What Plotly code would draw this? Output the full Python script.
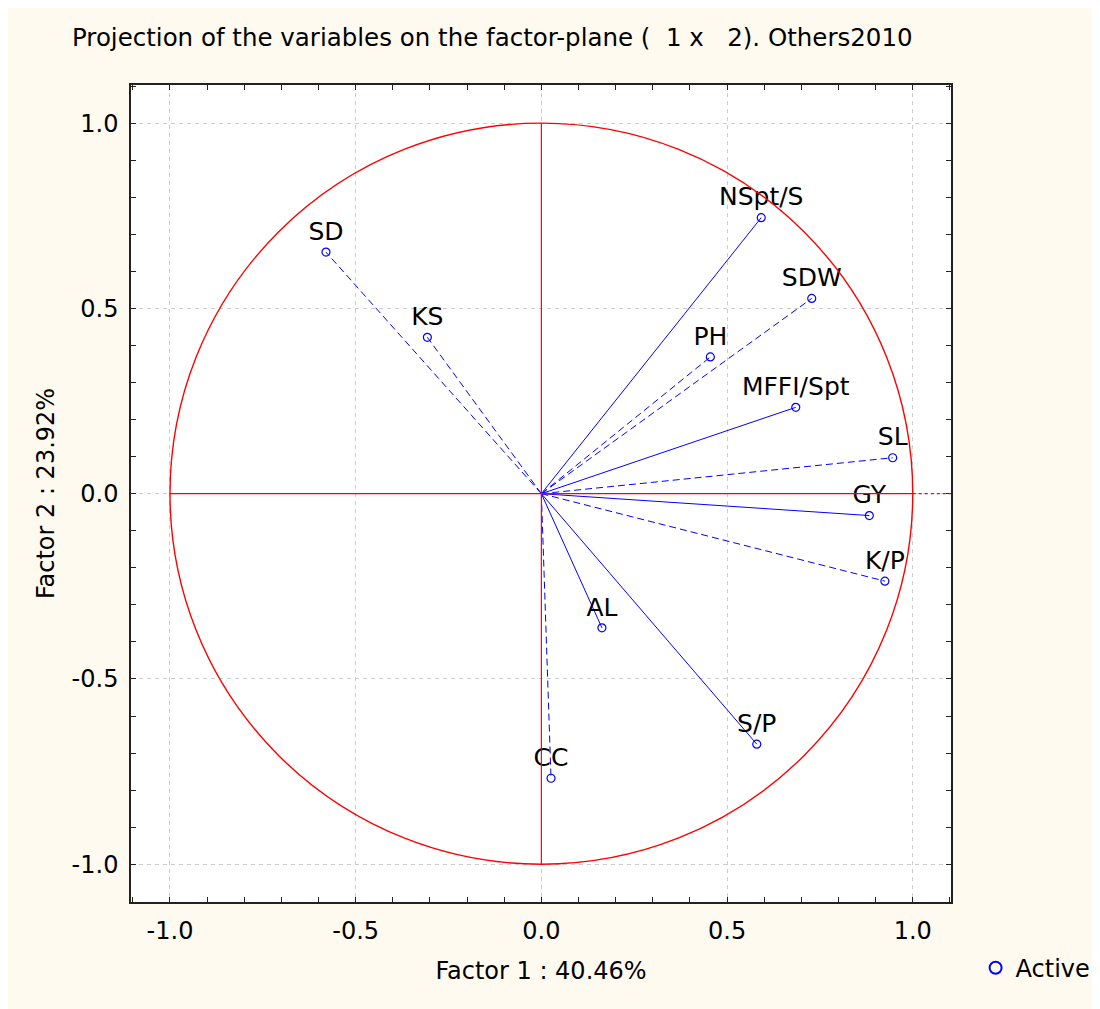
import plotly.graph_objects as go

# Data
variables = ["NSpt/S", "SDW", "PH", "MFFI/Spt", "SL", "GY", "K/P", "AL", "S/P", "CC", "SD", "KS"]
factor1 = [0.592, 0.728, 0.455, 0.685, 0.946, 0.883, 0.925, 0.163, 0.580, 0.026, -0.580, -0.307]
factor2 = [0.745, 0.527, 0.369, 0.233, 0.097, -0.059, -0.236, -0.362, -0.676, -0.768, 0.652, 0.422]
line_dash = ["solid", "dash", "dash", "solid", "dash", "solid", "dash", "solid", "solid", "dash", "dash", "dash"]
tick_vals = [-1.0, -0.5, 0.0, 0.5, 1.0]
tick_text = ["-1.0", "-0.5", "0.0", "0.5", "1.0"]

BLUE = "#0000ff"
RED = "#ff0000"
FONT = "DejaVu Sans, Liberation Sans, Arial, sans-serif"

fig = go.Figure()

# Vectors from origin
for name, x, y, d in zip(variables, factor1, factor2, line_dash):
    fig.add_trace(go.Scatter(
        x=[0, x], y=[0, y], mode="lines",
        line=dict(color=BLUE, width=1, dash=("7px,4px" if d == "dash" else "solid")),
        showlegend=False, hoverinfo="skip"))

# Markers with labels
fig.add_trace(go.Scatter(
    x=factor1, y=factor2, mode="markers+text", text=variables,
    textposition="top center",
    textfont=dict(family=FONT, size=25, color="black"),
    marker=dict(symbol="circle-open", size=8, color=BLUE, line=dict(width=1.2, color=BLUE)),
    name="Active", showlegend=True))

shapes = [
    dict(type="circle", xref="x", yref="y", x0=-1, y0=-1, x1=1, y1=1,
         line=dict(color=RED, width=1.4), layer="above"),
    dict(type="line", xref="x", yref="y", x0=-1, y0=0, x1=1, y1=0,
         line=dict(color=RED, width=1.2), layer="above"),
    dict(type="line", xref="x", yref="y", x0=1, y0=0, x1=1.103, y1=0,
         line=dict(color=RED, width=1.2, dash="3px,3px"), layer="above"),
    dict(type="line", xref="x", yref="y", x0=0, y0=-1, x1=0, y1=1,
         line=dict(color=RED, width=1.2), layer="above"),
]

axis_common = dict(
    tickvals=tick_vals, ticktext=tick_text,
    showgrid=True, gridcolor="#cccccc", griddash="4px,4px", gridwidth=1,
    zeroline=False, showline=True, linecolor="#222222", linewidth=1.5,
    mirror="ticks", ticks="inside", ticklen=5, tickcolor="#222222", tickwidth=1,
    minor=dict(dtick=0.1, tick0=0, ticks="inside", ticklen=5, tickcolor="#222222", showgrid=False),
    tickfont=dict(family=FONT, size=24, color="black"),
    ticklabelstandoff=6,
)

fig.update_layout(
    width=1100, height=1009,
    paper_bgcolor="#fefaef", plot_bgcolor="white",
    margin=dict(l=123, r=157, t=77, b=115, autoexpand=False),
    title=dict(text="Projection of the variables on the factor-plane (  1 x   2). Others2010",
               x=64 / 1100, xanchor="left", y=1 - 29 / 1009, yanchor="middle",
               font=dict(family=FONT, size=24.5, color="black")),
    xaxis=dict(range=[-1.105, 1.103], automargin=False,
               title=dict(text="Factor 1 : 40.46%", font=dict(family=FONT, size=24, color="black"), standoff=19),
               **axis_common),
    yaxis=dict(range=[-1.102, 1.103], automargin=False,
               title=dict(text="Factor 2 : 23.92%", font=dict(family=FONT, size=24, color="black"), standoff=10),
               **axis_common),
    shapes=shapes,
    legend=dict(x=1.03, y=-0.081, xanchor="left", yanchor="middle",
                bgcolor="rgba(0,0,0,0)", font=dict(family=FONT, size=24, color="black"),
                itemsizing="constant"),
    showlegend=True,
)

fig.write_html("out.html")
